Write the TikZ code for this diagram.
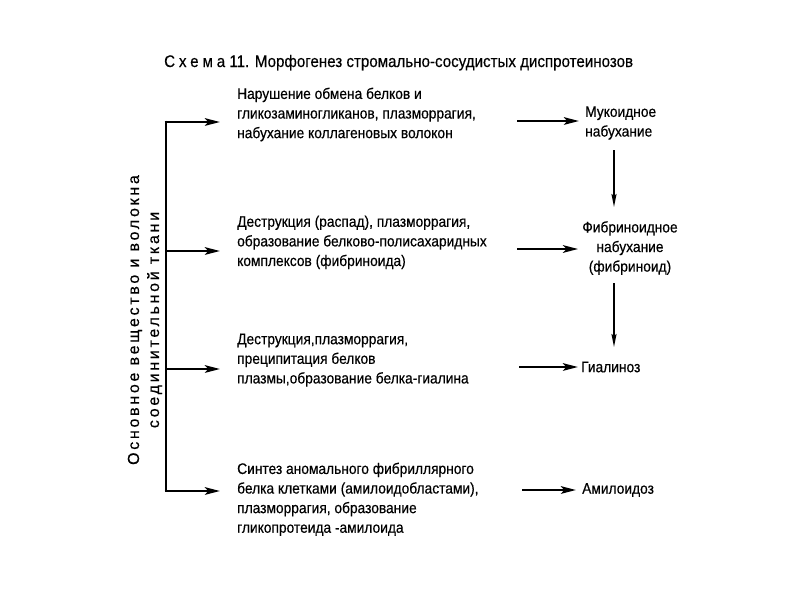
\documentclass[tikz,border=0pt]{standalone}
\usepackage{fontspec}
\setmainfont{Liberation Sans}[FakeStretch=0.9,FakeBold=0.4]
\newfontfamily\spacedfont{Liberation Sans}[LetterSpace=17,FakeBold=0.3]
\newfontfamily\titlespaced{Liberation Sans}[LetterSpace=23,FakeStretch=0.9,FakeBold=0.4]
\usetikzlibrary{arrows.meta}
\begin{document}
\begin{tikzpicture}[x=1pt,y=-1pt,
  txt/.style={anchor=north west,align=left,inner sep=0pt,font=\fontsize{15.3}{19.6}\selectfont},
  res/.style={align=center,inner sep=0pt,font=\fontsize{15.3}{19.6}\selectfont},
  thick arr/.style={line width=2.7pt,-{Stealth[length=15pt,width=7.5pt,inset=3.5pt]}},
  thin arr/.style={line width=1.6pt,-{Stealth[length=13pt,width=5pt,inset=2pt]}},
  trunk/.style={line width=2.7pt}]
\useasboundingbox (0,0) rectangle (800,600);
% title
\node[anchor=base west,inner sep=0pt,font=\fontsize{16.8}{20}\selectfont] (title) at (164,67)
  {{\titlespaced Схема} 11. Морфогенез стромально-сосудистых диспротеинозов};
% rotated label
\node[rotate=90,align=center,inner sep=0pt,font=\spacedfont\fontsize{16}{20}\selectfont] (lbl) at (145,320)
  {Основное вещество и волокна\\соединительной ткани};
% trunk
\coordinate (j1) at (166,122);
\coordinate (j2) at (166,251);
\coordinate (j3) at (166,369);
\coordinate (j4) at (166,491);
\draw[trunk] ([yshift=1.35pt]j1) -- ([yshift=-1.35pt]j4);
% process texts
\node[txt] (t1) at (237,87.5) {Нарушение обмена белков и\\гликозаминогликанов, плазморрагия,\\набухание коллагеновых волокон};
\node[txt] (t2) at (237,215.5) {Деструкция (распад), плазморрагия,\\образование белково-полисахаридных\\комплексов (фибриноида)};
\node[txt] (t3) at (237,333.5) {Деструкция,плазморрагия,\\преципитация белков\\плазмы,образование белка-гиалина};
\node[txt] (t4) at (237,462.5) {Синтез аномального фибриллярного\\белка клетками (амилоидобластами),\\плазморрагия, образование\\гликопротеида -амилоида};
% results
\node[res,align=left,anchor=west] (r1) at (585,123) {Мукоидное\\набухание};
\node[res] (r2) at (630,248) {Фибриноидное\\набухание\\(фибриноид)};
\node[res,anchor=west] (r3) at (581,367) {Гиалиноз};
\node[res,anchor=west] (r4) at (582,490) {Амилоидоз};
% left arrows
\draw[thick arr] ([xshift=-1.35pt]j1) -- ([xshift=-17pt]j1 -| t1.west);
\draw[thick arr] (j2) -- ([xshift=-17pt]j2 -| t2.west);
\draw[thick arr] (j3) -- ([xshift=-17pt]j3 -| t3.west);
\draw[thick arr] ([xshift=-1.35pt]j4) -- ([xshift=-17pt]j4 -| t4.west);
% right arrows
\coordinate (s1) at (517,121);
\coordinate (s2) at (517,249);
\coordinate (s3) at (519,367);
\coordinate (s4) at (522,490);
\draw[thick arr] (s1) -- ([xshift=-6pt]s1 -| r1.west);
\draw[thick arr] (s2) -- ([xshift=-4pt]s2 -| r2.west);
\draw[thick arr] (s3) -- ([xshift=-3pt]s3 -| r3.west);
\draw[thick arr] (s4) -- ([xshift=-6pt]s4 -| r4.west);
% down arrows
\coordinate (d1) at (614,150);
\coordinate (d1e) at (614,207);
\coordinate (d2) at (614,283);
\coordinate (d2e) at (614,347);
\draw[thin arr] (d1) -- (d1e);
\draw[thin arr] (d2) -- (d2e);
\end{tikzpicture}
\end{document}
